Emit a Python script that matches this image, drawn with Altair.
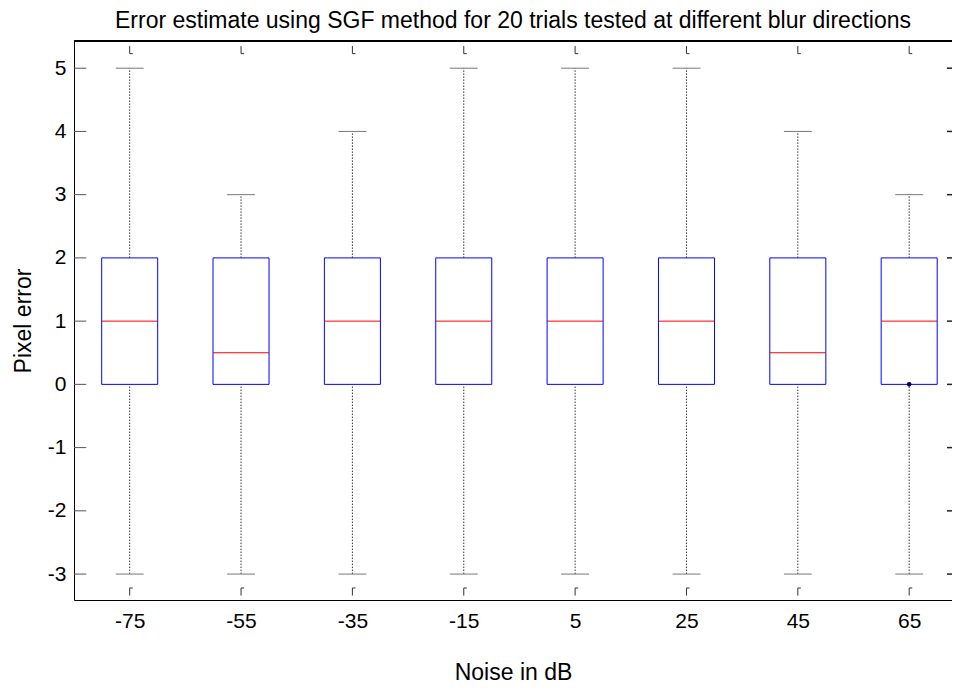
import altair as alt
import pandas as pd

# ---- data ----
noise_db = [-75, -55, -35, -15, 5, 25, 45, 65]
lower_whisker = [-3, -3, -3, -3, -3, -3, -3, -3]
q1 = [0, 0, 0, 0, 0, 0, 0, 0]
median = [1, 0.5, 1, 1, 1, 1, 0.5, 1]
q3 = [2, 2, 2, 2, 2, 2, 2, 2]
upper_whisker = [5, 3, 4, 5, 5, 5, 4, 3]
outlier_x = [65]
outlier_y = [0]
y_ticks = [-3, -2, -1, 0, 1, 2, 3, 4, 5]

# ---- styling / layout parameters ----
FONT = "Liberation Sans"
X_DOM = [-85.0, 72.69]
Y_DOM = [-3.41, 5.43]
W, H = 878, 559
BOX_HALF = 5.03    # x units (~28 px)
CAP_HALF = 2.5     # x units (~14 px)
LABEL_SIZE = 21
TITLE_SIZE = 23

df = pd.DataFrame({
    "noise": noise_db, "lw": lower_whisker, "q1": q1, "med": median,
    "q3": q3, "uw": upper_whisker,
})
out_df = pd.DataFrame({"noise": outlier_x, "val": outlier_y})
yt_df = pd.DataFrame({"v": y_ticks})
xt_df = pd.DataFrame({"noise": noise_db})

xs = alt.Scale(domain=X_DOM, nice=False, zero=False)
ys = alt.Scale(domain=Y_DOM, nice=False, zero=False)

XAX = alt.Axis(
    values=noise_db, ticks=False, grid=False, domain=True, domainColor="black",
    labelExpr="datum.value + ''", labelFont=FONT, labelFontSize=LABEL_SIZE,
    labelColor="black", labelPadding=10, title="Noise in dB", titleFont=FONT,
    titleFontSize=TITLE_SIZE, titleFontWeight="normal", titleColor="black",
    titlePadding=30)
YAX = alt.Axis(
    values=y_ticks, ticks=False, grid=False, domain=True, domainColor="black",
    labelExpr="datum.value + ''", labelFont=FONT, labelFontSize=LABEL_SIZE,
    labelColor="black", labelPadding=8, title="Pixel error", titleFont=FONT,
    titleFontSize=TITLE_SIZE, titleFontWeight="normal", titleColor="black",
    titlePadding=12)


def X(f):
    return alt.X(f, scale=xs, axis=XAX)


def Y(f):
    return alt.Y(f, scale=ys, axis=YAX)


def XD(v):
    return alt.XDatum(v, type="quantitative", scale=xs, axis=XAX)


def YD(v):
    return alt.YDatum(v, type="quantitative", scale=ys, axis=YAX)


base = alt.Chart(df).transform_calculate(
    bl=f"datum.noise - {BOX_HALF}", br=f"datum.noise + {BOX_HALF}",
    cl=f"datum.noise - {CAP_HALF}", cr=f"datum.noise + {CAP_HALF}",
)

boxes = base.mark_rect(fill="white", stroke="#0000ff", strokeWidth=1).encode(
    x=X("bl:Q"), x2="br:Q", y=Y("q1:Q"), y2="q3:Q",
)
medians = base.mark_rule(color="#ff0000", strokeWidth=1).encode(
    x=X("bl:Q"), x2="br:Q", y=Y("med:Q"),
)
upper = base.mark_rule(color="#333333", strokeWidth=1, strokeDash=[1.5, 1.5]).encode(
    x=X("noise:Q"), y=Y("q3:Q"), y2="uw:Q",
)
lower = base.mark_rule(color="#333333", strokeWidth=1, strokeDash=[1.5, 1.5]).encode(
    x=X("noise:Q"), y=Y("lw:Q"), y2="q1:Q",
)
cap_up = base.mark_rule(color="#777777", strokeWidth=1).encode(
    x=X("cl:Q"), x2="cr:Q", y=Y("uw:Q"),
)
cap_lo = base.mark_rule(color="#777777", strokeWidth=1).encode(
    x=X("cl:Q"), x2="cr:Q", y=Y("lw:Q"),
)
outliers = alt.Chart(out_df).mark_circle(size=22, color="#000066", opacity=1).encode(
    x=X("noise:Q"), y=Y("val:Q"),
)

# frame top edge
top_edge = alt.Chart(xt_df).mark_rule(color="black", strokeWidth=1).encode(
    x=XD(X_DOM[0]), x2=alt.X2Datum(X_DOM[1]), y=YD(Y_DOM[1]),
)

# inward y ticks (left and right)
ytick_l = alt.Chart(yt_df).mark_rule(color="#555555", strokeWidth=1).encode(
    x=XD(X_DOM[0]), x2=alt.X2Datum(X_DOM[0] + 2.2), y=Y("v:Q"),
)
ytick_r = alt.Chart(yt_df).mark_rule(color="#222222", strokeWidth=1.5).encode(
    x=XD(X_DOM[1] - 0.9), x2=alt.X2Datum(X_DOM[1]), y=Y("v:Q"),
)

# inward x ticks (top and bottom), small hooked glyphs
xtick_top = alt.Chart(xt_df).mark_rule(color="#333333", strokeWidth=1).encode(
    x=X("noise:Q"), y=YD(Y_DOM[1] - 0.08), y2=alt.Y2Datum(Y_DOM[1] - 0.2),
)
xtick_top_foot = alt.Chart(xt_df).transform_calculate(r="datum.noise + 0.55").mark_rule(
    color="#333333", strokeWidth=1).encode(
    x=X("noise:Q"), x2="r:Q", y=YD(Y_DOM[1] - 0.2),
)
xtick_bot = alt.Chart(xt_df).mark_rule(color="#333333", strokeWidth=1).encode(
    x=X("noise:Q"), y=YD(Y_DOM[0] + 0.07), y2=alt.Y2Datum(Y_DOM[0] + 0.19),
)
xtick_bot_foot = alt.Chart(xt_df).transform_calculate(r="datum.noise + 0.55").mark_rule(
    color="#333333", strokeWidth=1).encode(
    x=X("noise:Q"), x2="r:Q", y=YD(Y_DOM[0] + 0.19),
)

chart = alt.layer(
    boxes, upper, lower, cap_up, cap_lo, medians, outliers, top_edge,
    ytick_l, ytick_r, xtick_top, xtick_top_foot, xtick_bot, xtick_bot_foot,
).properties(
    width=W, height=H,
    title=alt.TitleParams(
        "Error estimate using SGF method for 20 trials tested at different blur directions",
        font=FONT, fontSize=TITLE_SIZE, fontWeight="normal", color="black",
        anchor="middle", offset=8),
    autosize=alt.AutoSizeParams(type="none"),
    padding={"left": 66, "top": 33, "right": 0, "bottom": 84},
    background="white",
).configure_view(stroke=None)

chart.save("out.html", embed_options={"renderer": "svg", "actions": False})
